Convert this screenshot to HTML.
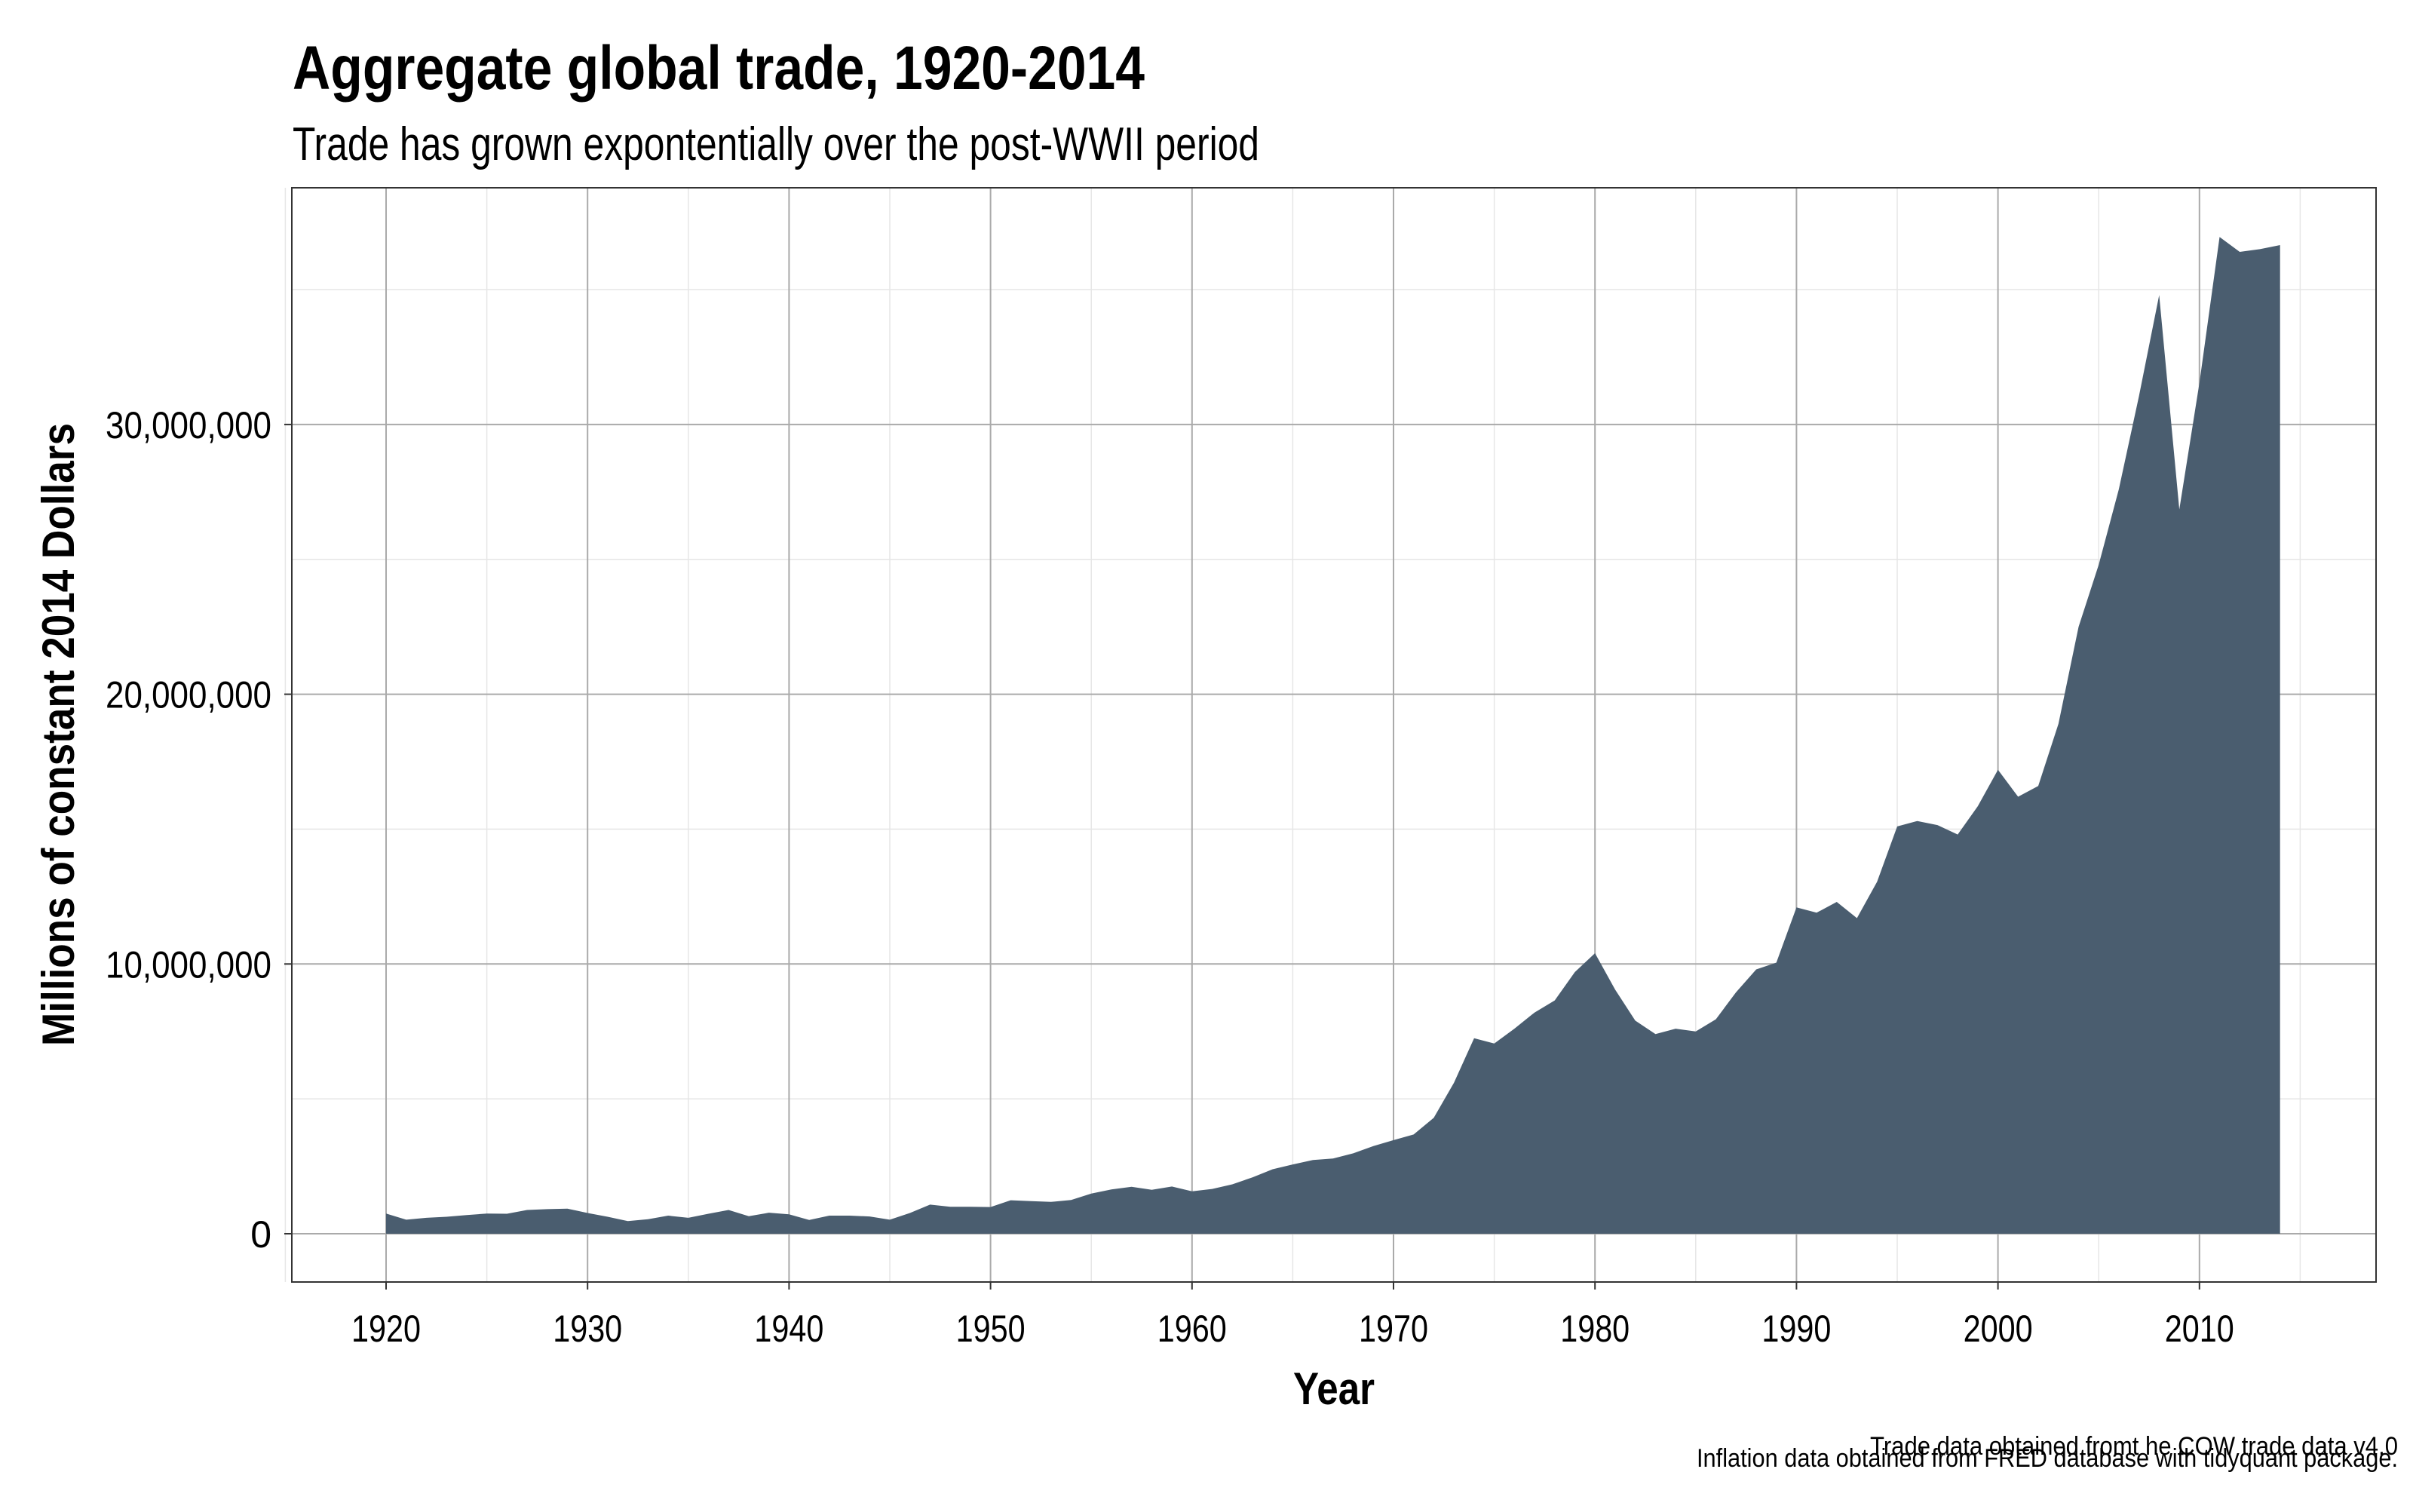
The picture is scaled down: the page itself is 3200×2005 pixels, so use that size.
<!DOCTYPE html>
<html><head><meta charset="utf-8"><style>
html,body{margin:0;padding:0;background:#fff;}
svg text{font-family:"Liberation Sans Narrow","Liberation Sans",sans-serif;fill:#000;}
</style></head><body>
<svg id="chart" width="3200" height="2000" xmlns="http://www.w3.org/2000/svg">
<text x="388" y="118" font-size="82" font-weight="bold" textLength="1130" lengthAdjust="spacingAndGlyphs">Aggregate global trade, 1920-2014</text>
<text x="388" y="212" font-size="62" textLength="1282" lengthAdjust="spacingAndGlyphs">Trade has grown expontentially over the post-WWII period</text>
<g id="grid"></g>
<path id="area" fill="#4a5d6f"/>
<rect x="387" y="249" width="2764" height="1451" fill="none" stroke="#333" stroke-width="2"/>
<g id="axes"></g>
<text x="1769" y="1862" font-size="60" font-weight="bold" text-anchor="middle" textLength="108" lengthAdjust="spacingAndGlyphs">Year</text>
<text transform="translate(98,974) rotate(-90)" font-size="60" font-weight="bold" text-anchor="middle" textLength="826" lengthAdjust="spacingAndGlyphs">Millions of constant 2014 Dollars</text>
<text x="3180" y="1929" font-size="34" text-anchor="end" textLength="700" lengthAdjust="spacingAndGlyphs">Trade data obtained fromt he COW trade data v4.0</text>
<text x="3180" y="1945" font-size="34" text-anchor="end" textLength="930" lengthAdjust="spacingAndGlyphs">Inflation data obtained from FRED database with tidyquant package.</text>
</svg>
<script>
const years = [];
for (let y = 1920; y <= 2014; y++) years.push(y);
const tradeMillions = [
0.75,0.52,0.59,0.63,0.69,0.75,0.74,0.88,0.91,0.93,
0.77,0.63,0.47,0.54,0.67,0.59,0.74,0.88,0.65,0.78,
0.72,0.51,0.67,0.67,0.64,0.52,0.77,1.08,1.0,1.0,
0.99,1.24,1.21,1.18,1.25,1.49,1.64,1.74,1.63,1.75,
1.57,1.66,1.83,2.09,2.39,2.57,2.73,2.79,2.98,3.25,
3.47,3.68,4.3,5.6,7.25,7.05,7.6,8.2,8.65,9.7,
10.4,9.05,7.9,7.4,7.6,7.5,7.95,8.95,9.8,10.05,
12.1,11.9,12.3,11.7,13.05,15.1,15.3,15.15,14.8,15.85,
17.2,16.2,16.6,18.9,22.5,24.8,27.6,31.05,34.8,26.85,
31.55,36.95,36.4,36.5,36.65];
const xTicks = [1920,1930,1940,1950,1960,1970,1980,1990,2000,2010];
const xMinor = [1915,1925,1935,1945,1955,1965,1975,1985,1995,2005,2015];
const yTicks = [0,10,20,30];
const yTickLabels = ["0","10,000,000","20,000,000","30,000,000"];
const yMinor = [5,15,25,35];

const PL=387, PR=3151, PT=249, PB=1700;
const xScale = v => 512 + (v-1920)*26.72;
const yScale = v => 1636 - v*35.77;
const NS="http://www.w3.org/2000/svg";
const grid=document.getElementById('grid'), axes=document.getElementById('axes');
function line(g,x1,y1,x2,y2,c,w){const l=document.createElementNS(NS,'line');
l.setAttribute('x1',x1);l.setAttribute('y1',y1);l.setAttribute('x2',x2);l.setAttribute('y2',y2);
l.setAttribute('stroke',c);l.setAttribute('stroke-width',w);g.appendChild(l);return l;}
xMinor.forEach(v=>{const l=line(grid,xScale(v),PT,xScale(v),PB,'#e6e6e6',1.5);

});
yMinor.forEach(v=>{const l=line(grid,PL,yScale(v),PR,yScale(v),'#e6e6e6',1.5);

});
xTicks.forEach(v=>{const l=line(grid,xScale(v),PT,xScale(v),PB,'#aaaaaa',2);


const t=line(axes,xScale(v),PB,xScale(v),PB+10,'#333',2);


const tx=document.createElementNS(NS,'text');tx.setAttribute('x',xScale(v));tx.setAttribute('y',1779);
tx.setAttribute('font-size','50');tx.setAttribute('text-anchor','middle');tx.textContent=v;
tx.setAttribute('textLength','92');tx.setAttribute('lengthAdjust','spacingAndGlyphs');


axes.appendChild(tx);});
yTicks.forEach((v,i)=>{const l=line(grid,PL,yScale(v),PR,yScale(v),'#aaaaaa',2);


const t=line(axes,PL-10,yScale(v),PL,yScale(v),'#333',2);


const tx=document.createElementNS(NS,'text');tx.setAttribute('x',360);tx.setAttribute('y',yScale(v)+18);
tx.setAttribute('font-size','50');tx.setAttribute('text-anchor','end');tx.textContent=yTickLabels[i];
if(yTickLabels[i].length>1){tx.setAttribute('textLength','220');tx.setAttribute('lengthAdjust','spacingAndGlyphs');}


axes.appendChild(tx);});
let d='M'+xScale(years[0])+','+yScale(0);
years.forEach((y,i)=>{d+=' L'+xScale(y).toFixed(1)+','+yScale(tradeMillions[i]).toFixed(1);});
d+=' L'+xScale(years[years.length-1])+','+yScale(0)+' Z';
document.getElementById('area').setAttribute('d',d);
</script>
</body></html>
